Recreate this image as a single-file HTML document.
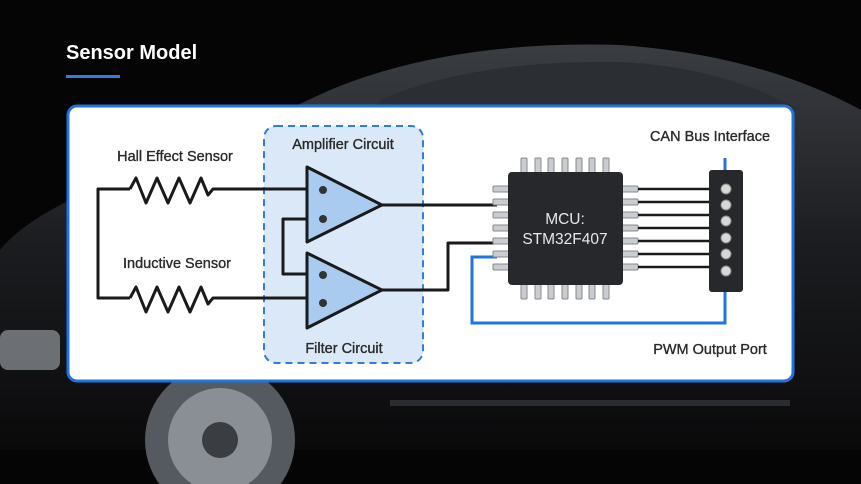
<!DOCTYPE html>
<html><head><meta charset="utf-8"><style>
html,body{margin:0;padding:0;background:#000;width:861px;height:484px;overflow:hidden;}
svg{display:block;}
text{font-family:"Liberation Sans",sans-serif;}
</style></head><body>
<svg width="861" height="484" viewBox="0 0 861 484" xmlns="http://www.w3.org/2000/svg">
<defs>
<linearGradient id="car" x1="0" y1="0" x2="0" y2="1">
<stop offset="0" stop-color="#3a3d42"/><stop offset="0.5" stop-color="#1b1c1f"/><stop offset="1" stop-color="#0a0a0b"/>
</linearGradient>
</defs>
<rect width="861" height="484" fill="#050505"/>
<path d="M0 250 Q40 200 200 150 L330 90 Q450 40 620 45 Q760 55 861 110 L861 450 L0 450 Z" fill="url(#car)"/>
<path d="M380 100 Q470 60 620 62 Q720 66 800 110 L380 110 Z" fill="#2b2e33"/>
<circle cx="220" cy="440" r="75" fill="#555a60"/>
<circle cx="220" cy="440" r="52" fill="#8a8f95"/>
<circle cx="220" cy="440" r="18" fill="#3a3d41"/>
<rect x="0" y="330" width="60" height="40" rx="8" fill="#a9adb3" opacity="0.6"/>
<rect x="390" y="400" width="400" height="6" fill="#2a2c30"/>
<text x="66" y="59" font-size="20" font-weight="bold" fill="#fff">Sensor Model</text>
<rect x="66" y="75" width="54" height="3" fill="#2f7de0"/>
<rect x="68" y="106" width="725" height="275" rx="9" fill="#fff" stroke="#1f74e0" stroke-width="3"/>
<rect x="264" y="126" width="159" height="237" rx="12" fill="#dbe8f8" stroke="#2f7de0" stroke-width="2" stroke-dasharray="7,5"/>
<g font-size="14.5" fill="#2a2a2a" text-anchor="middle" stroke="#2a2a2a" stroke-width="0.35">
<text x="175" y="161">Hall Effect Sensor</text>
<text x="343" y="149">Amplifier Circuit</text>
<text x="177" y="268">Inductive Sensor</text>
<text x="344" y="353">Filter Circuit</text>
<text x="710" y="141">CAN Bus Interface</text>
<text x="710" y="354">PWM Output Port</text>
</g>
<g fill="none" stroke="#1a1a1a" stroke-width="3" stroke-linejoin="round">
<path d="M130 189 L98 189 L98 298 L130 298"/>
<path d="M130 189 L136 178 L146 203 L157 178 L168 203 L179 178 L190 203 L201 178 L208 195 L213 189 L307 189"/>
<path d="M130 298 L136 287 L146 312 L157 287 L168 312 L179 287 L190 312 L201 287 L208 304 L213 298 L307 298"/>
<path d="M307 219 L283 219 L283 274 L307 274"/>
<path d="M382 205 L497 205"/>
<path d="M382 290 L448 290 L448 243 L497 243"/>
</g>
<path d="M497 257 L472 257 L472 323 L725 323 L725 292" fill="none" stroke="#1f74e0" stroke-width="3"/>
<path d="M725 158 L725 170" stroke="#1f74e0" stroke-width="3"/>
<g fill="#a9cbf0" stroke="#1a1a1a" stroke-width="3" stroke-linejoin="round">
<path d="M307 167 L382 205 L307 242 Z"/>
<path d="M307 253 L382 290 L307 328 Z"/>
</g>
<g fill="#333">
<circle cx="323" cy="190" r="4"/><circle cx="323" cy="219" r="4"/>
<circle cx="323" cy="275" r="4"/><circle cx="323" cy="303" r="4"/>
</g>
<g fill="#c9ccd0" stroke="#888" stroke-width="1">
<rect x="493" y="186" width="16" height="6" rx="1"/><rect x="493" y="199" width="16" height="6" rx="1"/>
<rect x="493" y="212" width="16" height="6" rx="1"/><rect x="493" y="225" width="16" height="6" rx="1"/>
<rect x="493" y="238" width="16" height="6" rx="1"/><rect x="493" y="251" width="16" height="6" rx="1"/>
<rect x="493" y="264" width="16" height="6" rx="1"/>
<rect x="622" y="186" width="16" height="6" rx="1"/><rect x="622" y="199" width="16" height="6" rx="1"/>
<rect x="622" y="212" width="16" height="6" rx="1"/><rect x="622" y="225" width="16" height="6" rx="1"/>
<rect x="622" y="238" width="16" height="6" rx="1"/><rect x="622" y="251" width="16" height="6" rx="1"/>
<rect x="622" y="264" width="16" height="6" rx="1"/>
<rect x="521" y="158" width="6" height="15" rx="1"/><rect x="535" y="158" width="6" height="15" rx="1"/>
<rect x="548" y="158" width="6" height="15" rx="1"/><rect x="562" y="158" width="6" height="15" rx="1"/>
<rect x="576" y="158" width="6" height="15" rx="1"/><rect x="589" y="158" width="6" height="15" rx="1"/>
<rect x="603" y="158" width="6" height="15" rx="1"/>
<rect x="521" y="284" width="6" height="15" rx="1"/><rect x="535" y="284" width="6" height="15" rx="1"/>
<rect x="548" y="284" width="6" height="15" rx="1"/><rect x="562" y="284" width="6" height="15" rx="1"/>
<rect x="576" y="284" width="6" height="15" rx="1"/><rect x="589" y="284" width="6" height="15" rx="1"/>
<rect x="603" y="284" width="6" height="15" rx="1"/>
</g>
<rect x="508" y="172" width="115" height="113" rx="4" fill="#26282b"/>
<text x="565" y="224" font-size="15.5" fill="#e8e8e8" text-anchor="middle">MCU:</text>
<text x="565" y="244" font-size="15.5" fill="#e8e8e8" text-anchor="middle">STM32F407</text>
<g stroke="#1a1a1a" stroke-width="2.5">
<path d="M638 189 L709 189"/><path d="M638 202 L709 202"/><path d="M638 215 L709 215"/>
<path d="M638 228 L709 228"/><path d="M638 241 L709 241"/><path d="M638 254 L709 254"/>
<path d="M638 267 L709 267"/>
</g>
<rect x="709" y="170" width="34" height="122" rx="3" fill="#26282b"/>
<g fill="#d8d8d8" stroke="#888" stroke-width="1">
<circle cx="726" cy="189" r="5"/><circle cx="726" cy="205" r="5"/><circle cx="726" cy="221" r="5"/>
<circle cx="726" cy="238" r="5"/><circle cx="726" cy="254" r="5"/><circle cx="726" cy="271" r="5"/>
</g>
</svg>
</body></html>
